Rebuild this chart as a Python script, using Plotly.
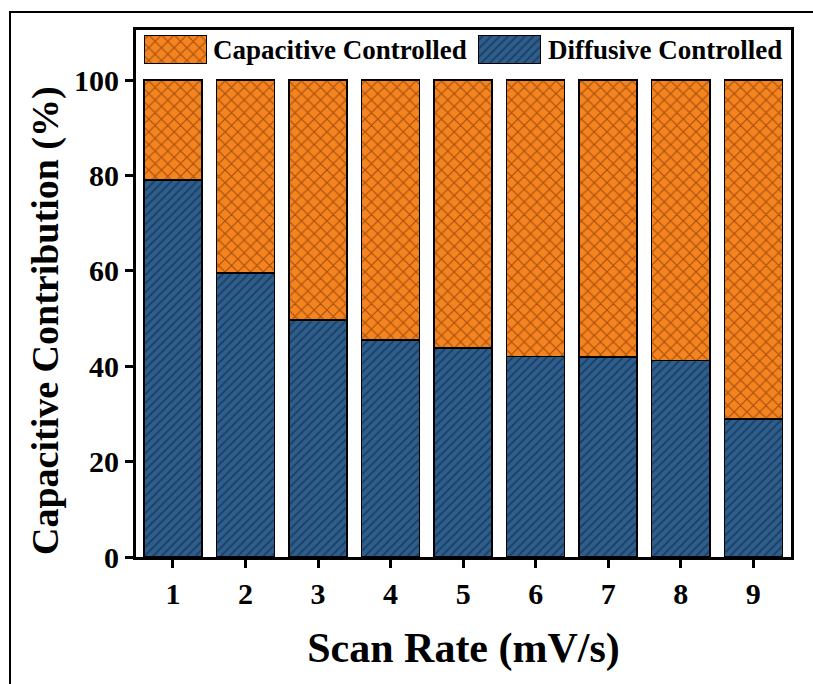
import plotly.graph_objects as go

# Scan rates (mV/s) and the share of charge storage per mechanism (%)
scan_rate = [1, 2, 3, 4, 5, 6, 7, 8, 9]
diffusive = [79.0, 59.5, 49.7, 45.5, 43.8, 42.0, 41.9, 41.2, 28.9]
capacitive = [round(100 - d, 1) for d in diffusive]

series_names = ["Capacitive Controlled", "Diffusive Controlled"]
y_ticks = [0, 20, 40, 60, 80, 100]

ORANGE = "#F3841F"
ORANGE_LINE = "#A94E0C"
BLUE = "#2D5E8C"
BLUE_LINE = "#1C3D62"
FONT = "Liberation Serif"

cap_pattern = dict(shape="x", fgcolor=ORANGE_LINE, bgcolor=ORANGE, size=9, solidity=0.24, fillmode="replace")
dif_pattern = dict(shape="/", fgcolor=BLUE_LINE, bgcolor=BLUE, size=6, solidity=0.3, fillmode="replace")

fig = go.Figure()

fig.add_trace(go.Bar(
    x=scan_rate, y=diffusive, name=series_names[1],
    width=0.8, marker=dict(color=BLUE, pattern=dif_pattern, line=dict(color="black", width=1.5)),
    showlegend=False,
))
fig.add_trace(go.Bar(
    x=scan_rate, y=capacitive, name=series_names[0],
    width=0.8, marker=dict(color=ORANGE, pattern=cap_pattern, line=dict(color="black", width=1.5)),
    showlegend=False,
))

# Legend keys: two large hatched swatches on a small separate axis, with text beside them
fig.add_trace(go.Bar(
    x=[39], y=[1], width=[62], xaxis="x2", yaxis="y2", hoverinfo="skip",
    marker=dict(color=ORANGE, pattern=cap_pattern, line=dict(color="black", width=1)),
    showlegend=False,
))
fig.add_trace(go.Bar(
    x=[373], y=[1], width=[62], xaxis="x2", yaxis="y2", hoverinfo="skip",
    marker=dict(color=BLUE, pattern=dif_pattern, line=dict(color="black", width=1)),
    showlegend=False,
))

axis_font = dict(family=FONT, size=30, color="black")

fig.update_layout(
    barmode="stack",
    width=813, height=684,
    margin=dict(l=136, r=22, t=30, b=127),
    paper_bgcolor="white", plot_bgcolor="white",
    font=dict(family=FONT, color="black"),
    xaxis=dict(
        domain=[0, 1],
        range=[0.49, 9.52], tickmode="array", tickvals=scan_rate,
        ticktext=[f"<b>{v}</b>" for v in scan_rate],
        tickfont=axis_font, ticks="outside", ticklen=8, tickwidth=2.5, tickcolor="black",
        showline=True, linewidth=3, linecolor="black", mirror=True, showgrid=False, zeroline=False,
        title=dict(text="<b>Scan Rate (mV/s)</b>", font=dict(family=FONT, size=42, color="black"), standoff=24),
    ),
    yaxis=dict(
        domain=[0, 1],
        range=[0, 110.5], tickmode="array", tickvals=y_ticks,
        ticktext=[f"<b>{v}</b>" for v in y_ticks],
        tickfont=axis_font, ticks="outside", ticklen=8, tickwidth=2.5, tickcolor="black",
        showline=True, linewidth=3, linecolor="black", mirror=True, showgrid=False, zeroline=False,
    ),
    xaxis2=dict(domain=[0, 1], range=[0, 655], anchor="y2", visible=False, fixedrange=True),
    yaxis2=dict(domain=[0.9355, 0.9905], range=[0, 1], anchor="x2", visible=False, fixedrange=True),
    showlegend=False,
)

# Y-axis title, set slightly below the plot's vertical centre
fig.add_annotation(
    text="<b>Capacitive Contribution (%)</b>", xref="paper", yref="paper",
    x=(45 - 136) / 655, y=(557 - 321) / 527, xanchor="center", yanchor="middle",
    textangle=-90, showarrow=False, font=dict(family=FONT, size=38, color="black"),
)

# Legend labels
for label, x_px in [(series_names[0], 211), (series_names[1], 546)]:
    fig.add_annotation(
        text=f"<b>{label}</b>", xref="paper", yref="paper",
        x=(x_px - 136) / 655, y=(557 - 50) / 527, xanchor="left", yanchor="middle",
        showarrow=False, font=dict(family=FONT, size=27, color="black"),
    )

# Outer frame around the figure
fig.add_shape(
    type="rect", xref="paper", yref="paper",
    x0=(10 - 136) / 655, x1=(950 - 136) / 655,
    y0=(557 - 760) / 527, y1=1 + (30 - 12) / 527,
    line=dict(color="black", width=2), fillcolor="rgba(0,0,0,0)", layer="below",
)

fig.write_html("out.html")
